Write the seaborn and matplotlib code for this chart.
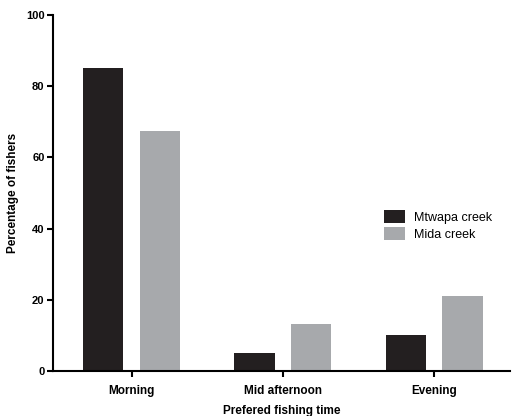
import pandas as pd
import matplotlib
matplotlib.use('Agg')
import matplotlib.pyplot as plt
import seaborn as sns

times = ['Morning', 'Mid afternoon', 'Evening']
mtwapa = [85.2, 5.1, 10.1]
mida = [67.4, 13.1, 21.2]
sites = ['Mtwapa creek', 'Mida creek']

df = pd.DataFrame({
    'time': times * 2,
    'pct': mtwapa + mida,
    'site': [sites[0]] * 3 + [sites[1]] * 3,
})

sns.set_style('ticks', {'axes.edgecolor': 'black', 'text.color': 'black',
                        'xtick.color': 'black', 'ytick.color': 'black',
                        'axes.labelcolor': 'black'})
plt.rcParams['font.family'] = ['Liberation Sans', 'DejaVu Sans']

fig = plt.figure(figsize=(5.14, 4.16), dpi=100)
ax = fig.add_axes([0.103, 0.108, 0.889, 0.856])

sns.barplot(data=df, x='time', y='pct', hue='site', order=times, hue_order=sites,
            palette=['#231f20', '#a7a9ac'], width=0.75, gap=0.29, saturation=1,
            edgecolor='none', ax=ax)

ax.set_ylim(0, 100)
ax.set_xlim(-0.52, 2.5)
ax.set_yticks([0, 20, 40, 60, 80, 100])
for lbl in ax.get_yticklabels() + ax.get_xticklabels():
    lbl.set_fontweight('bold')
ax.tick_params(axis='y', labelsize=8, length=4, width=1.5, pad=2)
ax.tick_params(axis='x', labelsize=8.5, length=4, width=1.5, pad=6)
ax.set_ylabel('Percentage of fishers', fontsize=8.5, fontweight='bold', labelpad=5)
ax.set_xlabel('Prefered fishing time', fontsize=8.5, fontweight='bold', labelpad=6)
for s in ['left', 'bottom']:
    ax.spines[s].set_linewidth(1.5)
sns.despine(ax=ax)

ax.legend(title=None, frameon=False, fontsize=9, loc='center left',
          bbox_to_anchor=(0.70, 0.41), handlelength=1.7, handleheight=1.3,
          labelspacing=0.25, handletextpad=0.7)

plt.savefig('out.png', dpi=100)
